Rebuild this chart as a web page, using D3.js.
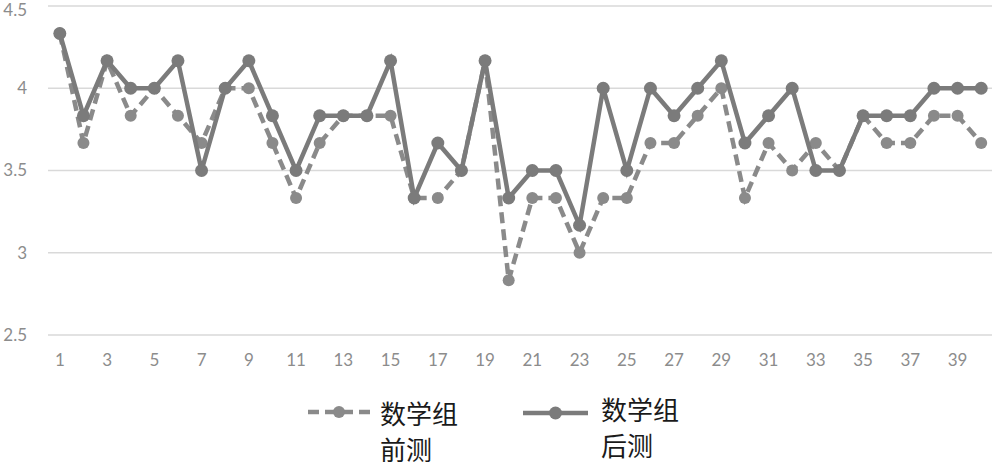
<!DOCTYPE html>
<html>
<head>
<meta charset="utf-8">
<script src="https://cdn.jsdelivr.net/npm/d3@7"></script>
<style>
  html, body { margin: 0; padding: 0; background: #fff; }
  svg { display: block; }
</style>
</head>
<body>
<svg id="chart" width="992" height="469"></svg>
<script>
const categories = d3.range(1, 41).map(String);
const preTest = [4.333, 3.667, 4.167, 3.833, 4.0, 3.833, 3.667, 4.0, 4.0, 3.667,
                 3.333, 3.667, 3.833, 3.833, 3.833, 3.333, 3.333, 3.5, 4.167, 2.833,
                 3.333, 3.333, 3.0, 3.333, 3.333, 3.667, 3.667, 3.833, 4.0, 3.333,
                 3.667, 3.5, 3.667, 3.5, 3.833, 3.667, 3.667, 3.833, 3.833, 3.667];
const postTest = [4.333, 3.833, 4.167, 4.0, 4.0, 4.167, 3.5, 4.0, 4.167, 3.833,
                  3.5, 3.833, 3.833, 3.833, 4.167, 3.333, 3.667, 3.5, 4.167, 3.333,
                  3.5, 3.5, 3.167, 4.0, 3.5, 4.0, 3.833, 4.0, 4.167, 3.667,
                  3.833, 4.0, 3.5, 3.5, 3.833, 3.833, 3.833, 4.0, 4.0, 4.0];
const yTicks = [2.5, 3, 3.5, 4, 4.5];
const xTickLabels = categories.filter((d, i) => i % 2 === 0);
const seriesNames = [["数学组", "前测"], ["数学组", "后测"]];

const svg = d3.select("#chart");
const x = d3.scaleBand().domain(categories).range([48, 993]);
const y = d3.scaleLinear().domain([2.5, 4.5]).range([335, 6]);
const lineColor = "#7b7b7b";
const dashColor = "#8a8a8a";

// grid
svg.append("g").selectAll("line").data(yTicks).join("line")
  .attr("x1", 48).attr("x2", 992)
  .attr("y1", d => y(d)).attr("y2", d => y(d))
  .attr("stroke", "#d9d9d9").attr("stroke-width", 1.5);

// y axis labels
const yAxis = d3.axisLeft(y).tickValues(yTicks).tickSize(0).tickPadding(0)
  .tickFormat(d => String(d));
const yg = svg.append("g").attr("transform", "translate(27,0)").call(yAxis);
yg.select(".domain").remove();
yg.selectAll("text").attr("fill", "#8c8c8c").style("font-family", "Lato, 'Open Sans', sans-serif").style("font-size", "17px")
  .attr("dy", (d) => d === 4.5 ? "0.55em" : "0.32em");

// x axis labels
const xAxis = d3.axisBottom(x).tickValues(xTickLabels).tickSize(0).tickPadding(0);
const xg = svg.append("g").attr("transform", "translate(0,354)").call(xAxis);
xg.select(".domain").remove();
xg.selectAll("text").attr("fill", "#8c8c8c").style("font-family", "Lato, 'Open Sans', sans-serif").style("font-size", "17px");

const cx = d => x(d) + x.bandwidth() / 2;
const line = d3.line().x((d, i) => cx(categories[i])).y(d => y(d));

// pre-test dashed
svg.append("path").datum(preTest).attr("d", line)
  .attr("fill", "none").attr("stroke", dashColor).attr("stroke-width", 4.5)
  .attr("stroke-dasharray", "11,6");
svg.append("g").selectAll("circle").data(preTest).join("circle")
  .attr("cx", (d, i) => cx(categories[i])).attr("cy", d => y(d)).attr("r", 6)
  .attr("fill", dashColor);

// post-test solid
svg.append("path").datum(postTest).attr("d", line)
  .attr("fill", "none").attr("stroke", lineColor).attr("stroke-width", 4.5);
svg.append("g").selectAll("circle").data(postTest).join("circle")
  .attr("cx", (d, i) => cx(categories[i])).attr("cy", d => y(d)).attr("r", 6.5)
  .attr("fill", lineColor);

// legend
const legend = [
  { name: seriesNames[0], x0: 308, x1: 370, ly: 412, tx: 380, ty: 424, dash: "11,6", color: dashColor, r: 6 },
  { name: seriesNames[1], x0: 523, x1: 588, ly: 413, tx: 601, ty: 420, dash: null, color: lineColor, r: 6.5 }
];
legend.forEach(l => {
  const g = svg.append("g");
  g.append("line").attr("x1", l.x0).attr("x2", l.x1).attr("y1", l.ly).attr("y2", l.ly)
    .attr("stroke", l.color).attr("stroke-width", 4.5)
    .attr("stroke-dasharray", l.dash);
  g.append("circle").attr("cx", (l.x0 + l.x1) / 2).attr("cy", l.ly).attr("r", l.r).attr("fill", l.color);
  l.name.forEach((s, i) => g.append("text").attr("x", l.tx).attr("y", l.ty + i * 36)
    .style("font-family", "'Noto Sans CJK SC', sans-serif").style("font-size", "26px")
    .attr("fill", "#1a1a1a").text(s));
});
</script>
</body>
</html>
